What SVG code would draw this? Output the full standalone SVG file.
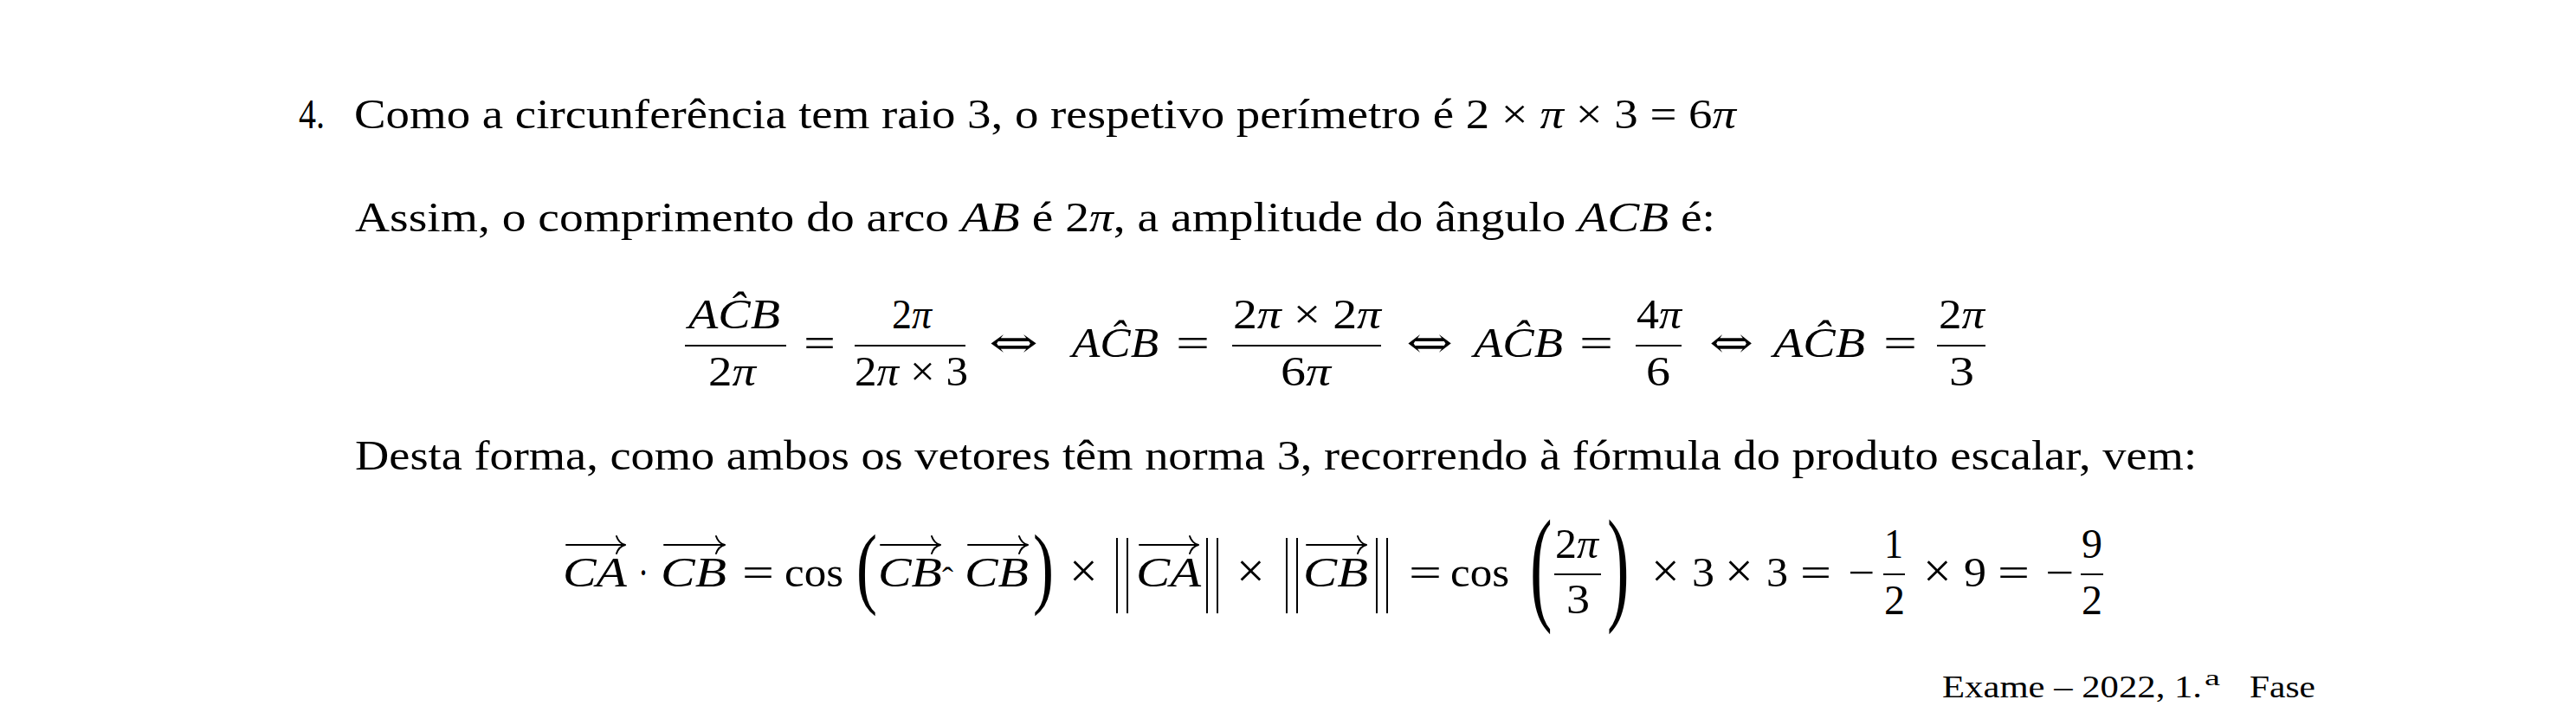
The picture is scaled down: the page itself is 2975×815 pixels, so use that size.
<svg xmlns="http://www.w3.org/2000/svg" width="2975" height="815" viewBox="0 0 2975 815">
<style>
text { font-family: "Liberation Serif", "DejaVu Serif", serif; font-size: 48px; fill: #000; }
.i { font-style: italic; }
.sym { font-family: "DejaVu Serif", "Liberation Serif", serif; }
.x { font-size: 58px; }
.f { font-size: 36px; }
.bar { fill: #000; }
.vec { stroke: #000; stroke-width: 2; fill: none; stroke-linecap: round; }
.nrm { stroke: #000; stroke-width: 2; }
</style>
<defs>
  <path id="ah" d="M -10 -10 C -8 -4 -4 -1 0 0 C -4 1 -8 4 -10 10" class="vec"/>
</defs>
<rect width="2975" height="815" fill="#fff"/>

<g id="line1">
  <text x="345" y="148" textLength="30" lengthAdjust="spacingAndGlyphs">4.</text>
  <text x="409" y="148" textLength="1596" lengthAdjust="spacingAndGlyphs">Como a circunferência tem raio 3, o respetivo perímetro é 2 × <tspan class="i">π</tspan> × 3 = 6<tspan class="i">π</tspan></text>
</g>

<g id="line2">
  <text x="410" y="267" textLength="1571" lengthAdjust="spacingAndGlyphs">Assim, o comprimento do arco <tspan class="i">AB</tspan> é 2<tspan class="i">π</tspan>, a amplitude do ângulo <tspan class="i">ACB</tspan> é:</text>
</g>

<g id="eq1">
  <rect class="bar" x="791" y="398" width="117" height="2"/>
  <text class="i" x="795" y="379" textLength="106" lengthAdjust="spacingAndGlyphs">AĈB</text>
  <text x="818" y="445" textLength="55" lengthAdjust="spacingAndGlyphs">2<tspan class="i">π</tspan></text>
  <text x="928" y="412" textLength="37" lengthAdjust="spacingAndGlyphs">=</text>
  <rect class="bar" x="987" y="398" width="128" height="2"/>
  <text x="1030" y="379" textLength="46" lengthAdjust="spacingAndGlyphs">2<tspan class="i">π</tspan></text>
  <text x="987" y="445" textLength="131" lengthAdjust="spacingAndGlyphs">2<tspan class="i">π</tspan> × 3</text>
  <text class="sym" x="1142" y="412" textLength="57" lengthAdjust="spacingAndGlyphs">⇔</text>
  <text class="i" x="1238" y="412" textLength="100" lengthAdjust="spacingAndGlyphs">AĈB</text>
  <text x="1358" y="412" textLength="39" lengthAdjust="spacingAndGlyphs">=</text>
  <rect class="bar" x="1423" y="398" width="172" height="2"/>
  <text x="1424" y="379" textLength="171" lengthAdjust="spacingAndGlyphs">2<tspan class="i">π</tspan> × 2<tspan class="i">π</tspan></text>
  <text x="1479" y="445" textLength="58" lengthAdjust="spacingAndGlyphs">6<tspan class="i">π</tspan></text>
  <text class="sym" x="1624" y="412" textLength="54" lengthAdjust="spacingAndGlyphs">⇔</text>
  <text class="i" x="1702" y="412" textLength="103" lengthAdjust="spacingAndGlyphs">AĈB</text>
  <text x="1824" y="412" textLength="39" lengthAdjust="spacingAndGlyphs">=</text>
  <rect class="bar" x="1889" y="398" width="53" height="2"/>
  <text x="1890" y="379" textLength="52" lengthAdjust="spacingAndGlyphs">4<tspan class="i">π</tspan></text>
  <text x="1901" y="445" textLength="28" lengthAdjust="spacingAndGlyphs">6</text>
  <text class="sym" x="1974" y="412" textLength="51" lengthAdjust="spacingAndGlyphs">⇔</text>
  <text class="i" x="2048" y="412" textLength="106" lengthAdjust="spacingAndGlyphs">AĈB</text>
  <text x="2175" y="412" textLength="39" lengthAdjust="spacingAndGlyphs">=</text>
  <rect class="bar" x="2237" y="398" width="56" height="2"/>
  <text x="2239" y="379" textLength="53" lengthAdjust="spacingAndGlyphs">2<tspan class="i">π</tspan></text>
  <text x="2251" y="445" textLength="29" lengthAdjust="spacingAndGlyphs">3</text>
</g>

<g id="line4">
  <text x="410" y="542" textLength="2127" lengthAdjust="spacingAndGlyphs">Desta forma, como ambos os vetores têm norma 3, recorrendo à fórmula do produto escalar, vem:</text>
</g>

<g id="eq2">
  <text class="i" x="650" y="677" textLength="74" lengthAdjust="spacingAndGlyphs">CA</text>
  <text x="737" y="677" textLength="12" lengthAdjust="spacingAndGlyphs">·</text>
  <text class="i" x="763" y="677" textLength="76" lengthAdjust="spacingAndGlyphs">CB</text>
  <text x="857" y="677" textLength="37" lengthAdjust="spacingAndGlyphs">=</text>
  <text x="906" y="677" textLength="68" lengthAdjust="spacingAndGlyphs">cos</text>
  <text transform="translate(989,689) scale(1.5,2.15)">(</text>
  <text class="i" x="1014" y="677" textLength="74" lengthAdjust="spacingAndGlyphs">CB</text>
  <text x="1088" y="680" style="font-size:36px" textLength="13" lengthAdjust="spacingAndGlyphs">ˆ</text>
  <text class="i" x="1114" y="677" textLength="74" lengthAdjust="spacingAndGlyphs">CB</text>
  <text transform="translate(1193,689) scale(1.5,2.15)">)</text>
  <text class="x" x="1235" y="678">×</text>
  <text class="i" x="1312" y="677" textLength="75" lengthAdjust="spacingAndGlyphs">CA</text>
  <text class="x" x="1428" y="678">×</text>
  <text class="i" x="1505" y="677" textLength="75" lengthAdjust="spacingAndGlyphs">CB</text>
  <text x="1627" y="677" textLength="38" lengthAdjust="spacingAndGlyphs">=</text>
  <text x="1675" y="677" textLength="68" lengthAdjust="spacingAndGlyphs">cos</text>
  <text transform="translate(1767,701) scale(1.6,3.03)">(</text>
  <rect class="bar" x="1795" y="662" width="54" height="2"/>
  <text x="1796" y="644" textLength="50" lengthAdjust="spacingAndGlyphs">2<tspan class="i">π</tspan></text>
  <text x="1809" y="708" textLength="27" lengthAdjust="spacingAndGlyphs">3</text>
  <text transform="translate(1856,701) scale(1.6,3.03)">)</text>
  <text class="x" x="1907" y="678">×</text>
  <text x="1954" y="677" textLength="26" lengthAdjust="spacingAndGlyphs">3</text>
  <text class="x" x="1992" y="678">×</text>
  <text x="2040" y="677" textLength="25" lengthAdjust="spacingAndGlyphs">3</text>
  <text x="2079" y="677" textLength="36" lengthAdjust="spacingAndGlyphs">=</text>
  <text x="2134" y="677" textLength="31" lengthAdjust="spacingAndGlyphs">−</text>
  <rect class="bar" x="2175" y="662" width="25" height="2"/>
  <text x="2176" y="644" textLength="22" lengthAdjust="spacingAndGlyphs">1</text>
  <text x="2176" y="709" textLength="24" lengthAdjust="spacingAndGlyphs">2</text>
  <text class="x" x="2221" y="678">×</text>
  <text x="2268" y="677" textLength="26" lengthAdjust="spacingAndGlyphs">9</text>
  <text x="2307" y="677" textLength="37" lengthAdjust="spacingAndGlyphs">=</text>
  <text x="2362" y="677" textLength="33" lengthAdjust="spacingAndGlyphs">−</text>
  <rect class="bar" x="2403" y="662" width="26" height="2"/>
  <text x="2404" y="644" textLength="24" lengthAdjust="spacingAndGlyphs">9</text>
  <text x="2404" y="709" textLength="24" lengthAdjust="spacingAndGlyphs">2</text>
</g>

<g id="eq2-decorations">
  <path class="vec" d="M 654 629 H 722"/><use href="#ah" x="722" y="629"/>
  <path class="vec" d="M 767 629 H 837"/><use href="#ah" x="837" y="629"/>
  <path class="vec" d="M 1017 629 H 1086"/><use href="#ah" x="1086" y="629"/>
  <path class="vec" d="M 1118 629 H 1187"/><use href="#ah" x="1187" y="629"/>
  <path class="vec" d="M 1316 629 H 1384"/><use href="#ah" x="1384" y="629"/>
  <path class="vec" d="M 1509 629 H 1578"/><use href="#ah" x="1578" y="629"/>
  <path class="nrm" d="M 1290 621 V 708 M 1302 621 V 708 M 1394 621 V 708 M 1406 621 V 708 M 1486 621 V 708 M 1498 621 V 708 M 1590 621 V 708 M 1602 621 V 708"/>
</g>

<g id="footer">
  <text class="f" x="2243" y="805" textLength="300" lengthAdjust="spacingAndGlyphs">Exame – 2022, 1.</text>
  <text class="f" x="2546" y="791" style="font-size:25px" textLength="18" lengthAdjust="spacingAndGlyphs">a</text>
  <text class="f" x="2598" y="805" textLength="76" lengthAdjust="spacingAndGlyphs">Fase</text>
</g>
</svg>
